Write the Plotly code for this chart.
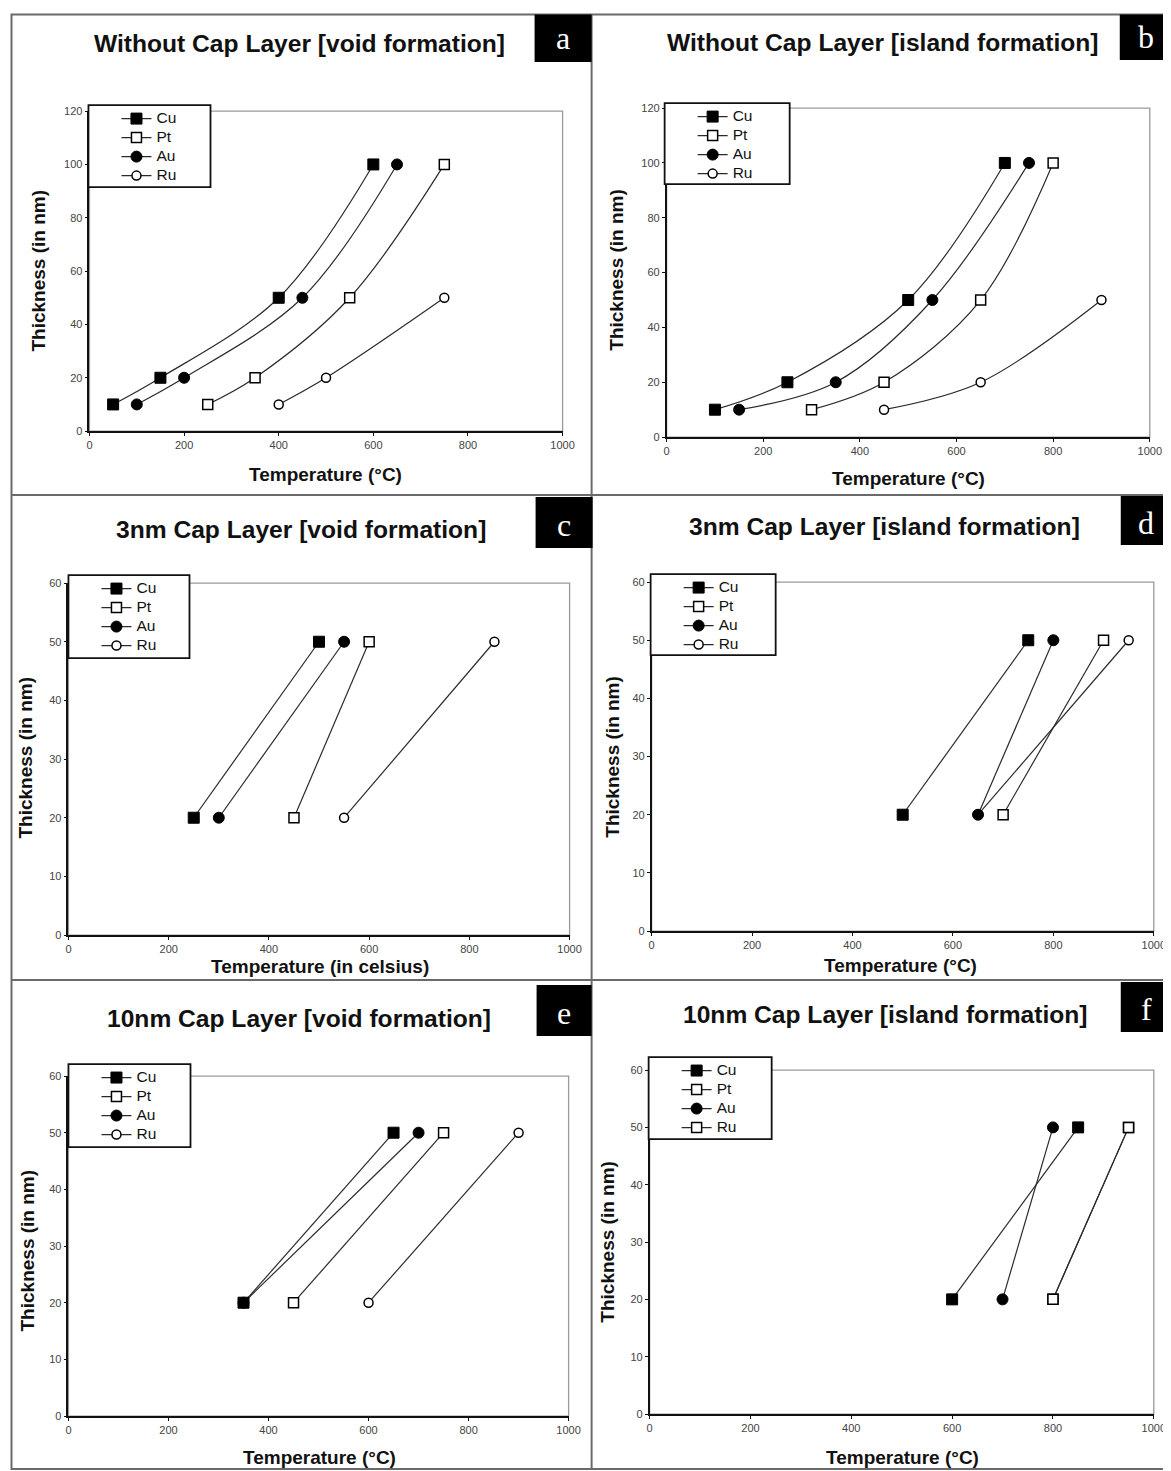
import plotly.graph_objects as go

# ---------------- data ----------------
metals = ["Cu", "Pt", "Au", "Ru"]
thick_4 = [10, 20, 50, 100]
thick_3 = [10, 20, 50]
thick_2 = [20, 50]

a_temp = {"Cu": [50, 150, 400, 600], "Pt": [250, 350, 550, 750],
          "Au": [100, 200, 450, 650], "Ru": [400, 500, 750]}
b_temp = {"Cu": [100, 250, 500, 700], "Pt": [300, 450, 650, 800],
          "Au": [150, 350, 550, 750], "Ru": [450, 650, 900]}
c_temp = {"Cu": [250, 500], "Pt": [450, 600], "Au": [300, 550], "Ru": [550, 850]}
d_temp = {"Cu": [500, 750], "Pt": [700, 900], "Au": [650, 800], "Ru": [650, 950]}
e_temp = {"Cu": [350, 650], "Pt": [450, 750], "Au": [350, 700], "Ru": [600, 900]}
f_temp = {"Cu": [600, 850], "Pt": [800, 950], "Au": [700, 800], "Ru": [800, 950]}

titles = ["Without Cap Layer [void formation]", "Without Cap Layer [island formation]",
          "3nm Cap Layer [void formation]", "3nm Cap Layer [island formation]",
          "10nm Cap Layer [void formation]", "10nm Cap Layer [island formation]"]
letters = ["a", "b", "c", "d", "e", "f"]
x_titles = ["Temperature (°C)", "Temperature (°C)", "Temperature (in celsius)",
            "Temperature (°C)", "Temperature (°C)", "Temperature (°C)"]
y_title = "Thickness (in nm)"
x_ticks = [0, 200, 400, 600, 800, 1000]

# ---------------- layout geometry (target pixels in the photographed page) ----------------
W, H = 1180, 1471
SX, CX = 0.987, 10.7      # empirical page -> figure mapping
SY, CY = 0.9919, 14.0
def fx(x): return min(max(x / SX - CX, 0.5), W - 0.5)
def fy(y): return min(max(y / SY - CY, 0.5), H - 0.5)
def px(x): return fx(x) / W
def py(y): return 1 - fy(y) / H

panels = [
    dict(temp=a_temp, thick={"Cu": thick_4, "Pt": thick_4, "Au": thick_4, "Ru": thick_3},
         ymax=120, dy=20, spline=True, plot=(89, 562, 111, 431), leg=(88, 105, 210, 187),
         lbox=(534, 10, 591, 62), tpos=(299, 43), xt=(325, 474), yt=(38, 270)),
    dict(temp=b_temp, thick={"Cu": thick_4, "Pt": thick_4, "Au": thick_4, "Ru": thick_3},
         ymax=120, dy=20, spline=True, plot=(666, 1149, 108, 437), leg=(664, 103, 789, 184),
         lbox=(1119, 9, 1171, 60), tpos=(882, 42), xt=(908, 478), yt=(615, 270)),
    dict(temp=c_temp, thick={m: thick_2 for m in metals},
         ymax=60, dy=10, spline=False, plot=(68, 569, 583, 935), leg=(68, 575, 189, 658),
         lbox=(535, 497, 592, 548), tpos=(300, 529), xt=(319, 966), yt=(25, 757)),
    dict(temp=d_temp, thick={m: thick_2 for m in metals},
         ymax=60, dy=10, spline=False, plot=(651, 1153, 582, 931), leg=(650, 574, 775, 655),
         lbox=(1120, 496, 1171, 545), tpos=(884, 526), xt=(900, 965), yt=(611, 757)),
    dict(temp=e_temp, thick={m: thick_2 for m in metals},
         ymax=60, dy=10, spline=False, plot=(68, 568, 1076, 1416), leg=(68, 1064, 190, 1147),
         lbox=(536, 985, 591, 1036), tpos=(298, 1018), xt=(319, 1457), yt=(27, 1250)),
    dict(temp=f_temp, thick={m: thick_2 for m in metals},
         ymax=60, dy=10, spline=False, plot=(649, 1153, 1070, 1414), leg=(648, 1057, 771, 1139),
         lbox=(1120, 982, 1171, 1032), tpos=(885, 1014), xt=(902, 1457), yt=(606, 1242)),
]

marker_style = {
    "Cu": dict(symbol="square", size=11, color="black", line=dict(color="black", width=1)),
    "Pt": dict(symbol="square", size=10, color="white", line=dict(color="black", width=1.5)),
    "Au": dict(symbol="circle", size=11, color="black", line=dict(color="black", width=1)),
    "Ru": dict(symbol="circle", size=9, color="white", line=dict(color="black", width=1.5)),
}
f_ru_marker = dict(symbol="square", size=10, color="white", line=dict(color="black", width=1.5))
rank = {"Cu": 1, "Pt": 2, "Au": 3, "Ru": 4}

FONT = "Liberation Sans, Arial, sans-serif"
fig = go.Figure()
shapes = []
annotations = []
layout = {}

draw_order = ["Ru", "Pt", "Au", "Cu"]
for i, p in enumerate(panels):
    n = i + 1
    xa = "x" if n == 1 else f"x{n}"
    ya = "y" if n == 1 else f"y{n}"
    leg = "legend" if n == 1 else f"legend{n}"
    for m in draw_order:
        mk = f_ru_marker if (n == 6 and m == "Ru") else marker_style[m]
        fig.add_trace(go.Scatter(
            x=p["temp"][m], y=p["thick"][m], mode="lines+markers",
            name=f"<span style='font-size:15.5px'>{m}</span>",
            line=dict(color="#2a2a2a", width=1.2, shape="spline" if p["spline"] else "linear",
                      smoothing=1.0),
            marker=mk, xaxis=xa, yaxis=ya, legend=leg, legendrank=rank[m],
        ))
    x0, x1, yt_, y0 = p["plot"]
    axkey = "xaxis" if n == 1 else f"xaxis{n}"
    aykey = "yaxis" if n == 1 else f"yaxis{n}"
    tickfont = dict(family=FONT, size=11, color="#444")
    layout[axkey] = dict(domain=[px(x0), px(x1)], range=[0, 1000], tickvals=x_ticks,
                         anchor=ya, showgrid=False, zeroline=False, showline=True,
                         linecolor="#111", linewidth=1.6, ticks="outside", ticklen=3,
                         tickcolor="#111", tickfont=tickfont)
    layout[aykey] = dict(domain=[py(y0), py(yt_)], range=[0, p["ymax"]], dtick=p["dy"],
                         anchor=xa, showgrid=False, zeroline=False, showline=True,
                         linecolor="#111", linewidth=1.6, ticks="outside", ticklen=3,
                         tickcolor="#111", tickfont=tickfont)
    # plot-area grey border (top / right)
    shapes.append(dict(type="rect", xref="paper", yref="paper", x0=px(x0), x1=px(x1),
                       y0=py(y0), y1=py(yt_), line=dict(color="#9a9a9a", width=1.3),
                       layer="below"))
    # legend box
    lx0, ly0, lx1, ly1 = p["leg"]
    shapes.append(dict(type="rect", xref="paper", yref="paper", x0=px(lx0), x1=px(lx1),
                       y0=py(ly1), y1=py(ly0), line=dict(color="#111", width=1.8),
                       fillcolor="white", layer="above"))
    layout[leg] = dict(x=px(lx0 + 28), y=py(ly0 - 1), xanchor="left", yanchor="top",
                       bgcolor="rgba(0,0,0,0)", borderwidth=0,
                       font=dict(family=FONT, size=12, color="#111"),
                       itemwidth=30, tracegroupgap=0)
    # letter box
    bx0, by0, bx1, by1 = p["lbox"]
    shapes.append(dict(type="rect", xref="paper", yref="paper", x0=px(bx0), x1=px(bx1),
                       y0=py(by1), y1=py(by0), line=dict(width=0), fillcolor="black",
                       layer="above"))
    annotations.append(dict(text=letters[i], x=px((bx0 + bx1) / 2), y=py((by0 + by1) / 2 + 2),
                            xref="paper", yref="paper", showarrow=False,
                            xanchor="center", yanchor="middle",
                            font=dict(family="Liberation Serif, Times New Roman, serif",
                                      size=32, color="white")))
    # title
    annotations.append(dict(text=titles[i], x=px(p["tpos"][0]), y=py(p["tpos"][1]),
                            xref="paper", yref="paper", showarrow=False,
                            xanchor="center", yanchor="middle",
                            font=dict(family=FONT, size=24.6, color="#111", weight="bold")))
    # axis titles
    annotations.append(dict(text=x_titles[i], x=px(p["xt"][0]), y=py(p["xt"][1]),
                            xref="paper", yref="paper", showarrow=False,
                            xanchor="center", yanchor="middle",
                            font=dict(family=FONT, size=19, color="#111", weight="bold")))
    annotations.append(dict(text=y_title, x=px(p["yt"][0]), y=py(p["yt"][1]),
                            xref="paper", yref="paper", showarrow=False, textangle=-90,
                            xanchor="center", yanchor="middle",
                            font=dict(family=FONT, size=19, color="#111", weight="bold")))

# panel frame lines
frame = dict(color="#6a6a6a", width=2)
shapes.insert(0, dict(type="rect", xref="paper", yref="paper", x0=px(10), x1=px(1170),
                      y0=py(1469), y1=py(10), line=frame, layer="below"))
shapes.insert(0, dict(type="line", xref="paper", yref="paper", x0=px(591), x1=px(591),
                      y0=py(1469), y1=py(10), line=frame, layer="below"))
shapes.insert(0, dict(type="line", xref="paper", yref="paper", x0=px(10), x1=px(1170),
                      y0=py(495), y1=py(495), line=frame, layer="below"))
shapes.insert(0, dict(type="line", xref="paper", yref="paper", x0=px(10), x1=px(1170),
                      y0=py(980), y1=py(980), line=frame, layer="below"))

fig.update_layout(width=W, height=H, margin=dict(l=0, r=0, t=0, b=0),
                  paper_bgcolor="white", plot_bgcolor="white", showlegend=True,
                  shapes=shapes, annotations=annotations, **layout)
fig.write_html("out.html")
